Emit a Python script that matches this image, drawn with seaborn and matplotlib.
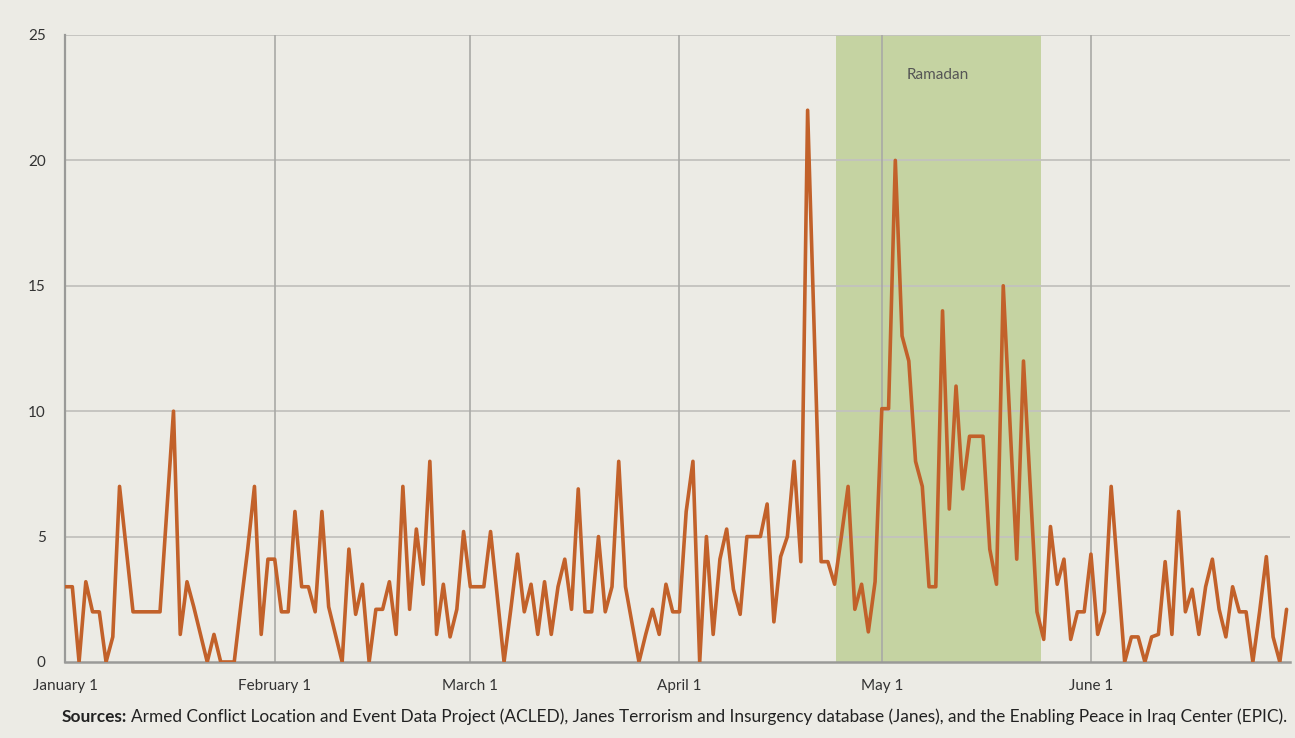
import pandas as pd
import matplotlib.pyplot as plt
import seaborn as sns

# daily incident counts, 1 Jan - 30 Jun 2020
start_date = "2020-01-01"
end_date = "2020-06-30"
incidents = [
    3, 3, 0, 3.2, 2, 2, 0, 1, 7, 4.5,
    2, 2, 2, 2, 2, 6, 10, 1.1, 3.2, 2.2,
    1.1, 0, 1.1, 0, 0, 0, 2.3, 4.5, 7, 1.1,
    4.1, 4.1, 2, 2, 6, 3, 3, 2, 6, 2.2,
    1.1, 0, 4.5, 1.9, 3.1, 0, 2.1, 2.1, 3.2, 1.1,
    7, 2.1, 5.3, 3.1, 8, 1.1, 3.1, 1, 2.1, 5.2,
    3, 3, 3, 5.2, 2.6, 0, 2.1, 4.3, 2, 3.1,
    1.1, 3.2, 1.1, 3, 4.1, 2.1, 6.9, 2, 2, 5,
    2, 3, 8, 3, 1.5, 0, 1.1, 2.1, 1.1, 3.1,
    2, 2, 6, 8, 0, 5, 1.1, 4.1, 5.3, 2.9,
    1.9, 5, 5, 5, 6.3, 1.6, 4.2, 5, 8, 4,
    22, 13, 4, 4, 3.1, 5, 7, 2.1, 3.1, 1.2,
    3.2, 10.1, 10.1, 20, 13, 12, 8, 7, 3, 3,
    14, 6.1, 11, 6.9, 9, 9, 9, 4.5, 3.1, 15,
    9.5, 4.1, 12, 7, 2, 0.9, 5.4, 3.1, 4.1, 0.9,
    2, 2, 4.3, 1.1, 2, 7, 3.5, 0, 1, 1,
    0, 1, 1.1, 4, 1.1, 6, 2, 2.9, 1.1, 3,
    4.1, 2.1, 1, 3, 2, 2, 0, 2, 4.2, 1,
    0, 2.1,
]
month_ticks = ["2020-01-01", "2020-02-01", "2020-03-01", "2020-04-01", "2020-05-01", "2020-06-01"]
month_labels = ["January 1", "February 1", "March 1", "April 1", "May 1", "June 1"]
y_ticks = [0, 5, 10, 15, 20, 25]
ramadan_start = "2020-04-24 06:00"
ramadan_end = "2020-05-24 15:00"
source_text = ("Armed Conflict Location and Event Data Project (ACLED), Janes Terrorism and Insurgency "
               "database (Janes), and the Enabling Peace in Iraq Center (EPIC).")

df = pd.DataFrame({"date": pd.date_range(start_date, end_date, freq="D"), "incidents": incidents})

bg = "#ECEBE5"
sns.set_theme(style="white")
plt.rcParams["font.family"] = ["Lato", "DejaVu Sans"]

fig = plt.figure(figsize=(12.95, 7.38), dpi=100, facecolor=bg)
ax = fig.add_axes([0.0502, 0.1030, 0.9459, 0.8496])
ax.set_facecolor(bg)

# Ramadan band
ax.axvspan(pd.Timestamp(ramadan_start), pd.Timestamp(ramadan_end), color="#C5D3A2", zorder=0, lw=0)
ax.text(pd.Timestamp("2020-05-09 06:00"), 23.4, "Ramadan", ha="center", va="center",
        fontsize=11, color="#555555")

sns.lineplot(data=df, x="date", y="incidents", ax=ax, color="#C2612A", linewidth=2.6, zorder=3)

ax.set_xlim(pd.Timestamp(start_date) - pd.Timedelta(hours=2), pd.Timestamp(end_date) + pd.Timedelta(hours=12))
ax.set_ylim(0, 25)
ax.set_yticks(y_ticks)
ax.set_yticklabels([str(v) for v in y_ticks])
ax.set_xticks(pd.to_datetime(month_ticks))
ax.set_xticklabels(month_labels)
ax.set_xlabel("")
ax.set_ylabel("")

for v in y_ticks[1:]:
    ax.axhline(v, color="#C2C2BE", lw=1.3, zorder=1)
for t in month_ticks[1:]:
    ax.axvline(pd.Timestamp(t), color="#A9A9A6", lw=1.2, zorder=1)

for side in ["top", "right"]:
    ax.spines[side].set_visible(False)
ax.spines["left"].set_color("#9A9A98")
ax.spines["bottom"].set_color("#9A9A98")
ax.spines["left"].set_linewidth(1.6)
ax.spines["bottom"].set_linewidth(1.8)
ax.tick_params(axis="both", length=0, labelsize=11, labelcolor="#333333")
ax.tick_params(axis="x", pad=12)
ax.tick_params(axis="y", pad=14)

# sources line: bold lead-in followed by regular text
src_bold = fig.text(0.0479, 0.022, "Sources:", fontsize=12.4, fontweight="bold", color="#222222")
fig.canvas.draw()
bb = src_bold.get_window_extent()
fig.text((bb.x1 + 4) / fig.bbox.width, 0.022, source_text, fontsize=12.4, color="#222222")

fig.savefig("out.png", dpi=100, facecolor=bg)
